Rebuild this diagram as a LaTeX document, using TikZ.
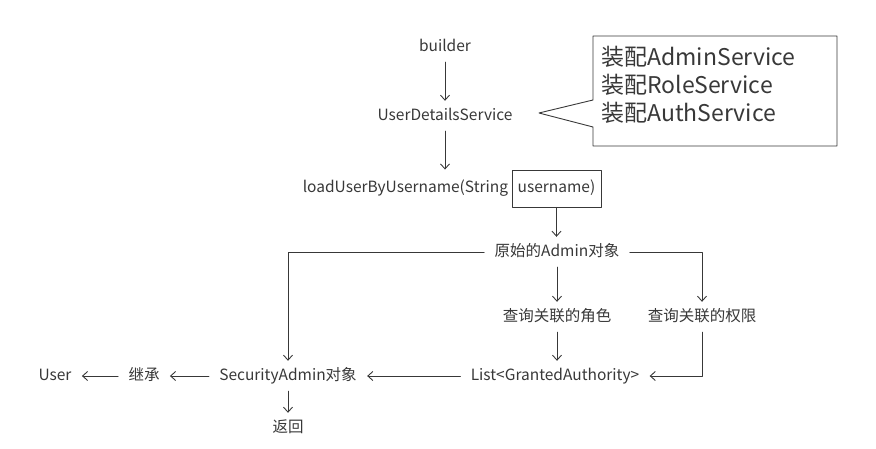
\documentclass[tikz,border=0pt]{standalone}
\usepackage{fontspec}
\setmainfont{Noto Sans CJK SC}
\usetikzlibrary{arrows.meta,positioning}
\definecolor{ink}{HTML}{383838}
\begin{document}
\begin{tikzpicture}[x=1pt, y=-1pt, line cap=round, line join=round, >={Straight Barb[length=5pt,width=9pt]},
  font=\fontsize{15.5}{18}\selectfont, color=ink, line width=0.9pt]
	\tikzset{txt/.style={inner xsep=10pt, inner ysep=7.5pt, text height=11.5pt, text depth=3pt},
		flow/.style={->, draw=ink}}
	\useasboundingbox (0,0) rectangle (876,449);
	\node[txt] (builder) at (445,47) {builder};
	\node[txt] (uds) at (445,116) {UserDetailsService};
	\node[draw=ink, minimum width=89pt, minimum height=37pt, inner sep=0pt, text height=11.5pt, text depth=3pt] (uname) at (556.5,188.5) {username)};
	\node[txt, inner xsep=0pt, left=3pt of uname] (load) {loadUserByUsername(String};
	\node[txt] (admin) at (557,252) {原始的Admin对象};
	\node[txt] (roles) at (557,317) {查询关联的角色};
	\node[txt] (perms) at (702,317) {查询关联的权限};
	\node[txt] (list) at (555,376) {List<GrantedAuthority>};
	\node[txt] (secadmin) at (288,376) {SecurityAdmin对象};
	\node[txt] (ret) at (288,428) {返回};
	\node[txt] (extend) at (144,376) {继承};
	\node[txt] (user) at (55,376) {User};
	% callout
	\draw (593,36) -- (837,36) -- (837,146) -- (593,146) -- (593,127) -- (539,113) -- (593,100) -- cycle;
	\node[anchor=west, align=left, inner sep=0pt, font=\fontsize{23}{28}\selectfont] (cfg) at (601,85)
		{装配AdminService\\装配RoleService\\装配AuthService};
	% arrows
	\draw[flow] (builder) -- (uds);
	\draw[flow] (uds.south) -- (uds.south |- uname.north);
	\draw[flow] (uname.south) -- (uname.south |- admin.north);
	\draw[flow] (admin) -- (roles);
	\draw[flow] (roles.south) -- (roles.south |- list.north);
	\draw[flow] (admin) -| (perms);
	\draw[flow] (admin) -| (secadmin);
	\draw[flow] (perms) |- (list);
	\draw[flow] (list) -- (secadmin);
	\draw[flow] (secadmin) -- (extend);
	\draw[flow] (extend) -- (user);
	\draw[flow] (secadmin) -- (ret);
\end{tikzpicture}
\end{document}
